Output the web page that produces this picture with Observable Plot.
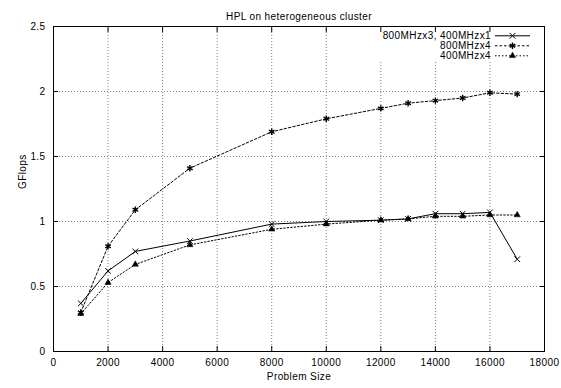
<!DOCTYPE html>
<html>
<head>
<meta charset="utf-8">
<script src="https://cdn.jsdelivr.net/npm/d3@7"></script>
<script src="https://cdn.jsdelivr.net/npm/@observablehq/plot@0.6"></script>
<style>
  html, body { margin: 0; padding: 0; background: #fff; }
  #chart { width: 561px; height: 388px; }
</style>
</head>
<body>
<div id="chart"></div>
<script>
// ---- data ----
const sizes  = [1000, 2000, 3000, 5000, 8000, 10000, 12000, 13000, 14000, 15000, 16000, 17000];
const mixed  = [0.37, 0.62, 0.77, 0.85, 0.98, 1.00, 1.01, 1.02, 1.06, 1.06, 1.07, 0.71];
const fast4  = [0.30, 0.81, 1.09, 1.41, 1.69, 1.79, 1.87, 1.91, 1.93, 1.95, 1.99, 1.98];
const slow4  = [0.29, 0.53, 0.67, 0.82, 0.94, 0.98, 1.01, 1.02, 1.04, 1.04, 1.05, 1.05];
const seriesNames = ["800MHzx3, 400MHzx1", "800MHzx4", "400MHzx4"];
const xTicks = [0, 2000, 4000, 6000, 8000, 10000, 12000, 14000, 16000, 18000];
const yTicks = [0, 0.5, 1, 1.5, 2, 2.5];
const title  = "HPL on heterogeneous cluster";
const xLabel = "Problem Size";
const yLabel = "GFlops";

// ---- styles (kept apart from the data) ----
const seriesValues = [mixed, fast4, slow4];
const symbols = ["times", "asterisk", "triangle"];
const d3Symbols = [d3.symbolTimes, d3.symbolAsterisk, d3.symbolTriangle];
const dashes  = [null, "2.5,2", "1.5,2"];
const symR    = [2.7, 3, 2.3];
const symFill = ["none", "none", "black"];
const symStrokeW = [1, 1.4, 0.5];

const rows = seriesValues.map((vals, s) =>
  sizes.map((size, i) => ({size, value: vals[i], series: seriesNames[s]})));

const font = "'Liberation Sans', Arial, Helvetica, sans-serif";

function legend(index, scales, values, dims) {
  const g = d3.create("svg:g")
    .attr("font-family", font).attr("font-size", 10)
    .attr("letter-spacing", "0.4px");
  const right = dims.width - dims.marginRight;
  const top = dims.marginTop;
  g.append("rect")
    .attr("x", right - 168).attr("y", top + 1)
    .attr("width", 164).attr("height", 35)
    .attr("fill", "white");
  seriesNames.forEach((name, i) => {
    const y = top + 9.8 + i * 10;
    g.append("text")
      .attr("x", right - 53).attr("y", y).attr("dy", "0.35em")
      .attr("text-anchor", "end").attr("fill", "black")
      .text(name);
    g.append("line")
      .attr("x1", right - 49).attr("x2", right - 14)
      .attr("y1", y).attr("y2", y)
      .attr("stroke", "black").attr("stroke-width", 1)
      .attr("stroke-dasharray", dashes[i]);
    g.append("path")
      .attr("transform", `translate(${right - 31.5},${y})`)
      .attr("d", d3.symbol().type(d3Symbols[i]).size(Math.PI * symR[i] * symR[i])())
      .attr("fill", symFill[i]).attr("stroke", "black")
      .attr("stroke-width", symStrokeW[i]);
  });
  return g.node();
}

const lineMarks = rows.flatMap((data, s) => [
  Plot.line(data, {x: "size", y: "value", stroke: "black", strokeWidth: 1,
    strokeDasharray: dashes[s]}),
  Plot.dot(data, {x: "size", y: "value", symbol: () => symbols[s], r: symR[s],
    fill: symFill[s], stroke: "black", strokeWidth: symStrokeW[s]})
]);

const chart = Plot.plot({
  width: 561,
  height: 388,
  marginLeft: 53,
  marginRight: 17,
  marginTop: 26,
  marginBottom: 37,
  style: {fontFamily: font, fontSize: "10px", letterSpacing: "0.4px", background: "white", color: "black", overflow: "visible"},
  x: {domain: [0, 18000]},
  y: {domain: [0, 2.5]},
  symbol: {type: "identity"},
  marks: [
    Plot.gridX(xTicks.slice(1, -1), {stroke: "#000", strokeOpacity: 0.5, strokeDasharray: "1,2"}),
    Plot.gridY(yTicks.slice(1, -1), {stroke: "#000", strokeOpacity: 0.5, strokeDasharray: "1,2"}),
    legend,
    Plot.frame({stroke: "black", strokeWidth: 1}),
    Plot.axisX(xTicks, {anchor: "bottom", tickSize: -5, fill: "none", label: null}),
    Plot.axisX(xTicks, {anchor: "top", tickSize: -5, fill: "none", label: null}),
    Plot.axisY(yTicks, {anchor: "left", tickSize: -5, fill: "none", label: null}),
    Plot.axisY(yTicks, {anchor: "right", tickSize: -5, fill: "none", label: null}),
    Plot.axisX(xTicks, {anchor: "bottom", tickSize: 0, tickPadding: 7, tickFormat: d => String(d), label: null}),
    Plot.axisY(yTicks, {anchor: "left", tickSize: 0, tickPadding: 8, tickFormat: d => String(d), label: null}),
    Plot.text([title], {frameAnchor: "top", dy: -14, text: d => d, fill: "black"}),
    Plot.text([xLabel], {frameAnchor: "bottom", dy: 28, text: d => d, fill: "black"}),
    Plot.text([yLabel], {frameAnchor: "left", dx: -31, rotate: -90, text: d => d, fill: "black"}),
    ...lineMarks
  ]
});
document.getElementById("chart").appendChild(chart);
</script>
</body>
</html>
